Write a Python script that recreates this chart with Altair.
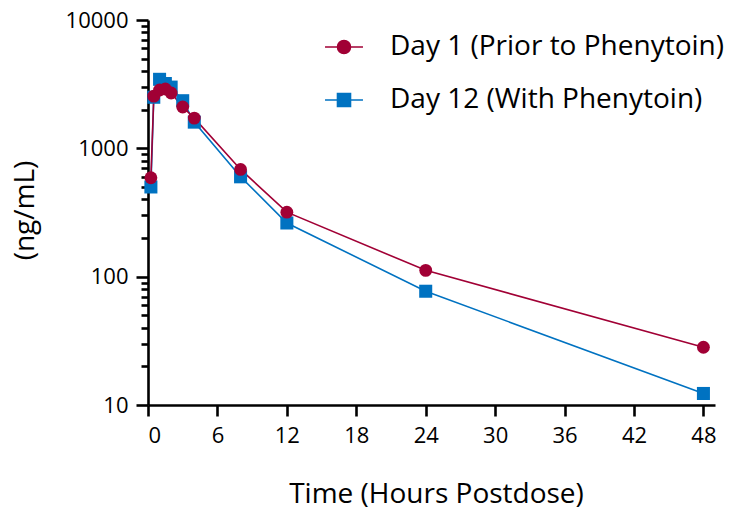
import altair as alt
import pandas as pd

# ---- data ----
times = [0.25, 0.5, 1, 1.5, 2, 3, 4, 8, 12, 24, 48]
day1 = [590, 2550, 2850, 2900, 2700, 2100, 1720, 685, 318, 112, 28.2]
day12 = [500, 2500, 3450, 3200, 3000, 2350, 1600, 600, 262, 77, 12.3]
series_names = ["Day 1 (Prior to Phenytoin)", "Day 12 (With Phenytoin)"]
colors = ["#A10035", "#0072C1"]
x_ticks = [0, 6, 12, 18, 24, 30, 36, 42, 48]
y_major = [10, 100, 1000, 10000]
y_minor = [20, 30, 40, 50, 60, 70, 80, 90,
           200, 300, 400, 500, 600, 700, 800, 900,
           2000, 3000, 4000, 5000, 6000, 7000, 8000, 9000]

rows = []
for t, v in zip(times, day1):
    rows.append({"time": t, "conc": v, "series": series_names[0]})
for t, v in zip(times, day12):
    rows.append({"time": t, "conc": v, "series": series_names[1]})
df = pd.DataFrame(rows)

FONT = "Open Sans"
LW = 1.6

x_scale = alt.Scale(domain=[0, 49], nice=False, zero=False)
y_scale = alt.Scale(type="log", domain=[10, 10000], nice=False)

major_test = "indexof([" + ",".join(str(v) for v in y_major) + "], datum.value) >= 0"

x_axis = alt.Axis(values=x_ticks, title="Time (Hours Postdose)", grid=False,
                  domainColor="black", domainWidth=2.6, tickColor="black",
                  tickWidth=2.6, tickSize=11, labelFont=FONT, labelFontSize=22,
                  labelColor="black", labelPadding=9, titleFont=FONT,
                  titleFontSize=28, titleFontWeight="normal", titleColor="black",
                  titleX=288, titleY=89, titleBaseline="middle")
y_axis = alt.Axis(values=sorted(y_major + y_minor), title="(ng/mL)", format="d",
                  labelExpr=major_test + " ? datum.label : ''",
                  grid=False, domainColor="black", domainWidth=2.6,
                  tickColor="black", tickWidth=2.6,
                  tickSize={"condition": {"test": major_test, "value": 12}, "value": 7},
                  labelFont=FONT, labelFontSize=22, labelColor="black",
                  labelPadding=8, labelOverlap=False, titleFont=FONT,
                  titleFontSize=28, titleFontWeight="normal", titleColor="black",
                  titleX=-123, titleY=190, titleBaseline="middle", orient="left")

X = alt.X("time:Q", scale=x_scale, axis=x_axis)
Y = alt.Y("conc:Q", scale=y_scale, axis=y_axis)

base = alt.Chart(df)

def sel(i):
    return base.transform_filter(alt.datum.series == series_names[i])

line12 = sel(1).mark_line(color=colors[1], strokeWidth=LW).encode(x=X, y=Y)
line1 = sel(0).mark_line(color=colors[0], strokeWidth=LW).encode(x=X, y=Y)
pts12 = sel(1).mark_point(shape="square", filled=True, opacity=1, size=170,
                          color=colors[1]).encode(x=X, y=Y)
pts1 = sel(0).mark_point(shape="circle", filled=True, opacity=1, size=165,
                         color=colors[0]).encode(x=X, y=Y)

circle_path = "M-2.92,0H2.92M1,0A1,1,0,1,1,-1,0A1,1,0,1,1,1,0Z"
square_path = "M-2.92,0H2.92M-1,-1H1V1H-1Z"

legend = alt.Legend(title=None, orient="none", legendX=182, legendY=13,
                    labelFont=FONT, labelFontSize=28, labelColor="black",
                    labelOffset=32, labelLimit=500, rowPadding=25,
                    symbolSize=169, symbolStrokeWidth=LW, padding=0)

legend_layer = base.transform_filter("false").mark_point(
    filled=True, opacity=1, size=169, strokeWidth=LW
).encode(
    x=X,
    y=Y,
    shape=alt.Shape("series:N", scale=alt.Scale(domain=series_names,
                    range=[circle_path, square_path]), legend=legend),
    fill=alt.Fill("series:N", scale=alt.Scale(domain=series_names, range=colors),
                  legend=legend),
    stroke=alt.Stroke("series:N", scale=alt.Scale(domain=series_names, range=colors),
                      legend=legend),
)

chart = alt.layer(line12, line1, pts12, pts1, legend_layer).properties(
    width=567, height=385,
    padding={"left": 140, "top": 12, "right": 20, "bottom": 105},
    autosize=alt.AutoSizeParams(type="none"),
).configure_view(stroke=None)

chart.save("out.html", embed_options={"renderer": "svg", "actions": False})
